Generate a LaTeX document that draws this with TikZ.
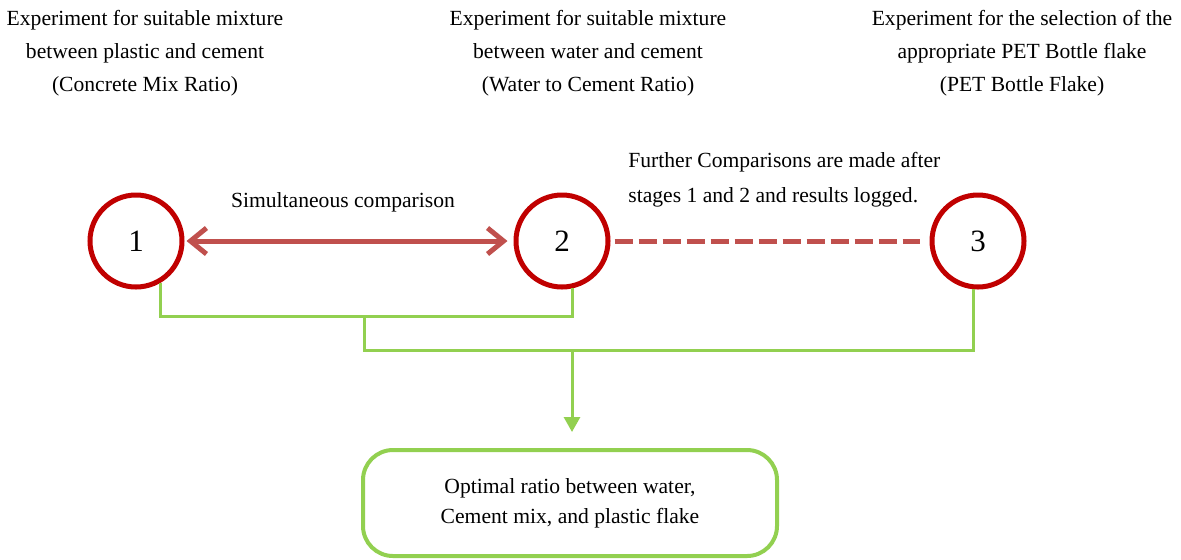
\documentclass[tikz,border=0pt]{standalone}
\usepackage{fontspec}
\setmainfont{Liberation Serif}
\usetikzlibrary{positioning}
\usetikzlibrary{arrows.meta}
\definecolor{stagered}{HTML}{C00000}
\definecolor{linkred}{HTML}{C0504D}
\definecolor{leafgreen}{HTML}{92D050}
\tikzstyle{S} = [circle,draw=stagered,line width=2.5pt,minimum size=46pt,inner sep=0pt,font=\fontsize{15.5}{18}\selectfont]
\tikzstyle{T} = [align=center,inner sep=0pt,font=\fontsize{10.8}{16.5}\selectfont]
\tikzstyle{G} = [draw=leafgreen,line width=1.5pt]
\tikzset{>={Triangle[length=7.5pt,width=8pt]}}

\begin{document}
\begin{tikzpicture}[x=0.5pt,y=-0.5pt]
  \useasboundingbox (0,0) rectangle (1181,559);
  % stages
  \node [S] (c1) at (136,241) {1};
  \node [S] (c2) at (562,241) {2};
  \node [S] (c3) at (978,241) {3};

  % titles
  \node [T] (t1) at (145,53) {Experiment for suitable mixture\\between plastic and cement\\(Concrete Mix Ratio)};
  \node [T] (t2) at (588,53) {Experiment for suitable mixture\\between water and cement\\(Water to Cement Ratio)};
  \node [T] (t3) at (1022,53) {Experiment for the selection of the\\appropriate PET Bottle flake\\(PET Bottle Flake)};

  \node [T] (sim) at (343,202) {Simultaneous comparison};
  \node [T,align=left,anchor=west,font=\fontsize{10.8}{17.5}\selectfont] (fur) at (628,180) {Further Comparisons are made after\\stages 1 and 2 and results logged.};

  % result
  \node [T,draw=leafgreen,line width=2pt,rounded corners=15pt,minimum width=207pt,minimum height=53pt,font=\fontsize{10.8}{15}\selectfont] (res) at (570,503) {Optimal ratio between water,\\Cement mix, and plastic flake};

  \coordinate (m1) at (364,316);
  \coordinate (m2) at (572,350);

	\draw [linkred,line width=2.5pt,{Straight Barb[length=8pt,width=13pt]}-{Straight Barb[length=8pt,width=13pt]},shorten <=1pt,shorten >=3pt] (c1.east) -- (c2.west);
	\draw [linkred,line width=2.5pt,dash pattern=on 9pt off 3pt,shorten <=2pt,shorten >=5pt] (c2.east) -- (c3.west);
	\draw [G] (c1.-60) |- (m1) -- (c2.-77 |- m1) -- (c2.-77);
	\draw [G] (m1) |- (m2) -| (c3.-95);
	\draw [G,->,shorten >=8pt] (m2) -- (m2 |- res.north);
\end{tikzpicture}
\end{document}
